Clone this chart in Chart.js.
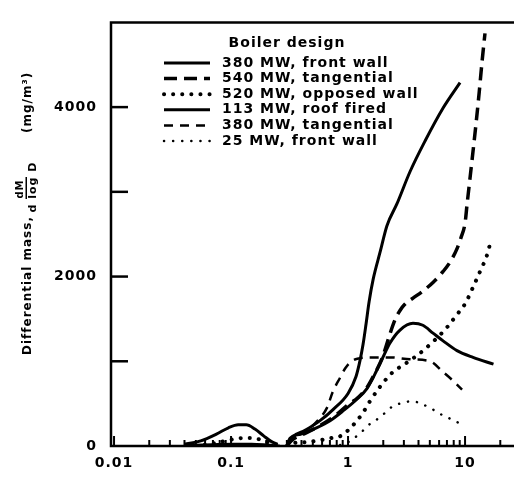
<!DOCTYPE html>
<html>
<head>
<meta charset="utf-8">
<script src="https://cdn.jsdelivr.net/npm/chart.js@4.4.0/dist/chart.umd.min.js"></script>
<style>
  html, body { margin: 0; padding: 0; background: #fff; }
</style>
</head>
<body>
<canvas id="myChart" width="514" height="479"></canvas>
<script>
// particle diameter D (um) and differential mass dM/dlogD (mg/m3) for each boiler
var frontWall380X = [0.04, 0.055, 0.075, 0.095, 0.115, 0.135, 0.16, 0.19, 0.22, 0.25, 0.27,
  0.30, 0.332, 0.429, 0.576, 0.744, 1.0, 1.17, 1.266, 1.344, 1.425, 1.512, 1.64, 1.88, 2.15, 2.62, 3.39, 4.55, 6.49, 9.06];
var frontWall380Y = [20, 60, 140, 215, 250, 250, 200, 120, 55, 20, null,
  0, 103, 184, 299, 430, 620, 820, 1010, 1200, 1440, 1700, 1970, 2290, 2600, 2860, 3240, 3600, 3990, 4290];

var tangential540X = [0.30, 0.332, 0.429, 0.576, 0.774, 1.04, 1.19, 1.45, 1.70, 1.95, 2.15, 2.29, 2.52, 2.78, 3.07,
  3.59, 4.37, 5.32, 6.49, 7.44, 8.54, 9.24, 10.0, 10.4, 11.0, 11.7, 12.4, 13.2, 14.0, 14.8];
var tangential540Y = [0, 69, 149, 241, 356, 506, 560, 690, 860, 1030, 1210, 1330, 1490, 1600, 1675,
  1745, 1830, 1930, 2060, 2170, 2330, 2460, 2632, 2850, 3150, 3480, 3800, 4170, 4550, 4870];

var opposedWall520X = [0.05, 0.07, 0.09, 0.11, 0.13, 0.16, 0.2, 0.25, 0.27,
  0.30, 0.339, 0.446, 0.576, 0.702, 0.854, 1.04, 1.19, 1.34, 1.54, 1.88, 2.42, 2.95, 3.89, 5.32, 7.02, 8.53, 10.0, 11.7, 13.4, 15.4, 16.4];
var opposedWall520Y = [0, 30, 60, 85, 95, 90, 50, 0, null,
  0, 34, 46, 69, 92, 115, 207, 299, 391, 529, 701, 874, 954, 1069, 1230, 1402, 1552, 1678, 1874, 2057, 2253, 2391];

var roofFired113X = [0.04, 0.07, 0.1, 0.15, 0.2, 0.26, 0.28,
  0.30, 0.319, 0.389, 0.543, 0.702, 0.906, 1.19, 1.45, 1.70, 1.95, 2.29, 2.78, 3.59, 4.36, 5.32, 6.49, 8.53, 11.7, 17.5];
var roofFired113Y = [5, 15, 20, 20, 12, 0, null,
  0, 92, 138, 218, 299, 414, 552, 678, 851, 1023, 1218, 1368, 1448, 1425, 1333, 1241, 1126, 1046, 966];

var tangential380X = [0.30, 0.35, 0.45, 0.55, 0.66, 0.74, 0.85, 0.95, 1.05, 1.2, 1.64, 2.29, 3.39, 5.02, 6.49, 7.74, 9.43];
var tangential380Y = [0, 100, 190, 300, 450, 640, 800, 920, 990, 1030, 1046, 1046, 1023, 1000, 873, 781, 666];

var frontWall25X = [0.854, 1.0, 1.15, 1.27, 1.48, 1.80, 2.07, 2.42, 2.89, 3.52, 4.29, 5.22, 6.12, 7.44, 8.72, 10.0];
var frontWall25Y = [11, 46, 103, 149, 241, 322, 391, 471, 506, 529, 494, 437, 379, 322, 276, 241];

var seriesLabels = [
  "380 MW, front wall",
  "540 MW, tangential",
  "520 MW, opposed wall",
  "113 MW, roof fired",
  "380 MW, tangential",
  "25 MW, front wall",
];

var xTickValues = [0.01, 0.1, 1, 10];
var xTickLabels = ["0.01", "0.1", "1", "10"];
var yTickValues = [0, 1000, 2000, 3000, 4000];
var yTickLabels = ["0", "", "2000", "", "4000"];

function points(xs, ys) {
  return xs.map((x, i) => ({ x: x, y: ys[i] }));
}

// line styles: width, dash, cap
var styles = [
  { w: 3, dash: [], cap: "butt" },
  { w: 3.5, dash: [13, 7], cap: "butt" },
  { w: 4, dash: [0.1, 9], cap: "round" },
  { w: 3, dash: [], cap: "butt" },
  { w: 2.5, dash: [9, 7], cap: "butt" },
  { w: 2.5, dash: [0.1, 9], cap: "round" },
];

var seriesData = [
  points(frontWall380X, frontWall380Y),
  points(tangential540X, tangential540Y),
  points(opposedWall520X, opposedWall520Y),
  points(roofFired113X, roofFired113Y),
  points(tangential380X, tangential380Y),
  points(frontWall25X, frontWall25Y),
];

var datasets = seriesData.map((d, i) => ({
  label: seriesLabels[i],
  data: d,
  borderColor: "#000",
  borderWidth: styles[i].w,
  borderDash: styles[i].dash,
  borderCapStyle: styles[i].cap,
  pointRadius: 0,
  fill: false,
  spanGaps: false,
  cubicInterpolationMode: "monotone",
}));

var FONT = '"DejaVu Sans", sans-serif';

// axes frame and inward tick marks
var frameTicks = {
  id: "frameTicks",
  beforeDraw(chart) {
    chart.ctx.letterSpacing = "1px";
  },
  afterDraw(chart) {
    var ctx = chart.ctx, a = chart.chartArea, x = chart.scales.x, y = chart.scales.y;
    ctx.save();
    ctx.strokeStyle = "#000";
    ctx.lineWidth = 2.5;
    ctx.beginPath();
    ctx.moveTo(a.right, a.top);
    ctx.lineTo(a.left, a.top);
    ctx.lineTo(a.left, a.bottom);
    ctx.lineTo(a.right, a.bottom);
    ctx.stroke();

    yTickValues.forEach((v) => {
      if (v === 0) return;
      var py = y.getPixelForValue(v);
      ctx.beginPath();
      ctx.moveTo(a.left, py);
      ctx.lineTo(a.left + 17, py);
      ctx.stroke();
    });

    ctx.lineWidth = 2;
    [0.01, 0.1, 1, 10].forEach((dec) => {
      for (var m = 1; m <= 9; m++) {
        var v = dec * m;
        if (v > x.max) break;
        var px = x.getPixelForValue(v);
        var len = m === 1 ? 10 : 6;
        ctx.beginPath();
        ctx.moveTo(px, a.bottom);
        ctx.lineTo(px, a.bottom - len);
        ctx.stroke();
      }
    });

    // y axis title with dM / d log D fraction
    ctx.fillStyle = "#000";
    ctx.translate(28, 355);
    ctx.rotate(-Math.PI / 2);
    ctx.textBaseline = "middle";
    ctx.font = "bold 12px " + FONT;
    ctx.textAlign = "left";
    ctx.fillText("Differential mass,", 0, 0);
    ctx.textAlign = "center";
    ctx.font = "bold 10px " + FONT;
    ctx.fillText("dM", 166, -8);
    ctx.fillRect(156, -2.5, 22, 1.5);
    ctx.font = "bold 11px " + FONT;
    ctx.fillText("d log D", 168, 5);
    ctx.textAlign = "left";
    ctx.font = "bold 12px " + FONT;
    ctx.fillText("(mg/m\u00B3)", 222, 0);
    ctx.restore();
  },
};

// legend block inside the plot
var boilerLegend = {
  id: "boilerLegend",
  afterDraw(chart) {
    var ctx = chart.ctx;
    ctx.save();
    ctx.fillStyle = "#000";
    ctx.strokeStyle = "#000";
    ctx.font = "bold 14px " + FONT;
    ctx.textBaseline = "middle";
    ctx.textAlign = "center";
    ctx.fillText("Boiler design", 287, 43);
    ctx.textAlign = "left";
    chart.data.datasets.forEach((ds, i) => {
      var ly = 63 + i * 15.6;
      ctx.lineWidth = ds.borderWidth;
      ctx.setLineDash(ds.borderDash);
      ctx.lineCap = ds.borderCapStyle;
      ctx.beginPath();
      ctx.moveTo(164, ly);
      ctx.lineTo(210, ly);
      ctx.stroke();
      ctx.setLineDash([]);
      ctx.fillText(ds.label, 222, ly);
    });
    ctx.restore();
  },
};

var ctx = document.getElementById("myChart").getContext("2d");
var myChart = new Chart(ctx, {
  type: "line",
  data: { datasets: datasets },
  options: {
    responsive: false,
    animation: false,
    devicePixelRatio: 1,
    layout: { padding: { top: 11, left: 0, right: 0, bottom: 0 } },
    plugins: { legend: { display: false }, tooltip: { enabled: false } },
    scales: {
      x: {
        type: "logarithmic",
        min: 0.00942,
        max: 26.2,
        grid: { display: false, drawTicks: false },
        border: { display: false },
        afterBuildTicks: (scale) => {
          scale.ticks = xTickValues.map((v) => ({ value: v }));
        },
        afterFit: (scale) => {
          scale.height = 33;
        },
        ticks: {
          autoSkip: false,
          maxRotation: 0,
          padding: 9,
          color: "#000",
          font: { family: FONT, weight: "bold", size: 14 },
          callback: (v) => xTickLabels[xTickValues.indexOf(v)],
        },
      },
      y: {
        type: "linear",
        min: 0,
        max: 5000,
        grid: { display: false, drawTicks: false },
        border: { display: false },
        afterBuildTicks: (scale) => {
          scale.ticks = yTickValues.map((v) => ({ value: v }));
        },
        afterFit: (scale) => {
          scale.width = 111;
        },
        ticks: {
          padding: 14,
          color: "#000",
          font: { family: FONT, weight: "bold", size: 14 },
          callback: (v) => yTickLabels[yTickValues.indexOf(v)],
        },
      },
    },
  },
  plugins: [frameTicks, boilerLegend],
});
</script>
</body>
</html>
